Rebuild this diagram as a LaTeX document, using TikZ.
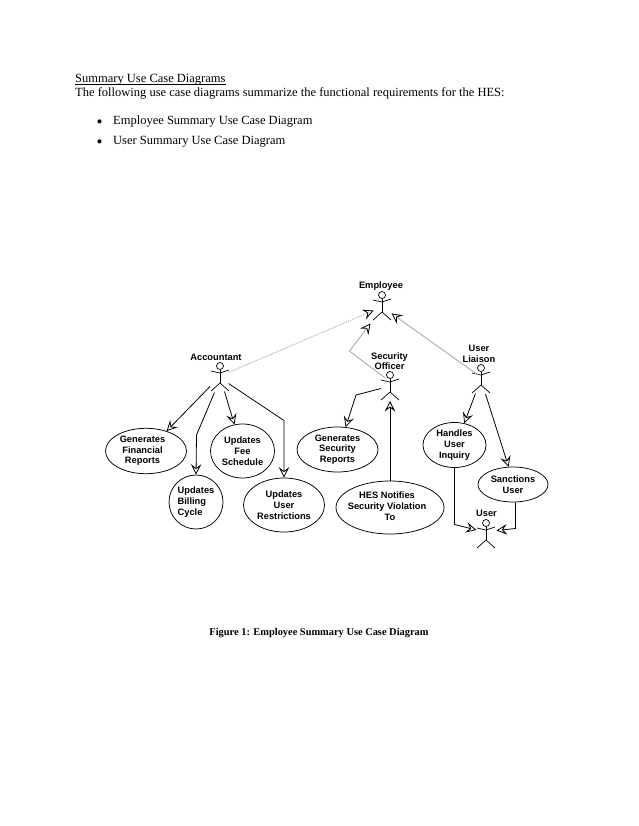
\documentclass[tikz,border=0pt]{standalone}
\usepackage{fontspec}
\setmainfont{Liberation Serif}
\newfontfamily\labelfont{Liberation Sans}
\usetikzlibrary{shapes.geometric, arrows.meta}
\tikzset{
    usecase/.style={draw, ellipse, line width=0.75pt, inner sep=0pt, align=center, font=\labelfont\bfseries\fontsize{9.3}{10.7}\selectfont},
    actorlabel/.style={align=center, inner sep=0pt, font=\labelfont\bfseries\fontsize{9.3}{10.5}\selectfont},
    bodytext/.style={anchor=base west, inner sep=0pt, font=\fontsize{12.5}{14}\selectfont},
    bullettext/.style={anchor=base west, inner sep=0pt, font=\fontsize{17}{17}\selectfont},
    solidlink/.style={draw, line width=0.8pt, -{Stealth[open, length=10.5pt, width=10.5pt, inset=4pt]}},
    graylink/.style={draw=black!30, line width=1pt, -{Stealth[open, black, line width=0.8pt, length=10.5pt, width=10.5pt, inset=4pt]}},
    actor/.pic={
        \node[draw, circle, minimum size=7pt, inner sep=0pt, line width=0.7pt] (-head) at (0,0) {};
        \draw[line width=0.7pt] (-head.south) -- (0,17);
        \draw[line width=0.7pt] (-9,5) -- (0,7) -- (9,4);
        \draw[line width=0.7pt] (-9,25) -- (0,17) -- (9,25);
    }
}

\begin{document}
\begin{tikzpicture}[x=1pt, y=-1pt]
    \useasboundingbox (0,0) rectangle (638,826);

    \node[bodytext] (title) at (75,83) {Summary Use Case Diagrams};
    \draw[line width=0.5pt] ([yshift=-1.3pt]title.base west) -- ([yshift=-1.3pt]title.base east);
    \node[bodytext] (intro) at (75,97) {The following use case diagrams summarize the functional requirements for the HES:};
    \node[bullettext] (bullet_a) at (96.3,128) {•};
    \node[bodytext] (item_a) at (113,125) {Employee Summary Use Case Diagram};
    \node[bullettext] (bullet_b) at (96.3,147.5) {•};
    \node[bodytext] (item_b) at (113,144.5) {User Summary Use Case Diagram};

    \pic (employee) at (382,295) {actor};
    \pic (accountant) at (220,366) {actor};
    \pic (security) at (390,375) {actor};
    \pic (liaison) at (481,368) {actor};
    \pic (user) at (486,523) {actor};

    \node[actorlabel] (employee_lbl) at (381,286) {Employee};
    \node[actorlabel] (accountant_lbl) at (216,357) {Accountant};
    \node[actorlabel] (security_lbl) at (389.5,361) {Security\\Officer};
    \node[actorlabel] (liaison_lbl) at (479,354) {User\\Liaison};
    \node[actorlabel] (user_lbl) at (486.5,513) {User};

    \node[usecase, minimum width=81pt, minimum height=45pt] (financial) at (146,451) {\begin{tabular}{@{}c@{\hspace{7pt}}}Generates\\Financial\\Reports\end{tabular}};
    \node[usecase, minimum width=54pt, minimum height=54pt, align=left] (billing) at (196,502) {Updates\\Billing\\Cycle};
    \node[usecase, minimum width=64pt, minimum height=54pt] (fee) at (242.5,451) {Updates\\Fee\\Schedule};
    \node[usecase, minimum width=81pt, minimum height=54pt] (restrictions) at (284,505) {Updates\\User\\Restrictions};
    \node[usecase, minimum width=81pt, minimum height=45pt] (reports) at (337.5,449.5) {Generates\\Security\\Reports};
    \node[usecase, inner xsep=-8pt, minimum width=108pt, minimum height=53pt] (notifies) at (390,507.5) {\begin{tabular}{@{}c@{}}HES Notifies\hspace*{6pt}\\Security Violation\hspace*{6pt}\\To\end{tabular}};
    \node[usecase, minimum width=63pt, minimum height=45pt] (inquiry) at (454.5,445) {Handles\\User\\Inquiry};
    \node[usecase, minimum width=70pt, minimum height=35pt] (sanctions) at (513,484.5) {Sanctions\\User};

    \coordinate (acc_tail) at (228.5,372.5);
    \coordinate (emp_left) at (373.5,310.5);
    \coordinate (sec_tail) at (385,378);
    \coordinate (sec_bend) at (349.5,351);
    \coordinate (emp_low) at (370.5,323.5);
    \coordinate (lia_tail) at (478,375);
    \coordinate (emp_right) at (391.5,313.5);
    \draw[graylink, densely dotted] (acc_tail) -- (emp_left);
    \draw[graylink] (sec_tail) -- (sec_bend) -- (emp_low);
    \draw[graylink] (lia_tail) -- (emp_right);

    \coordinate (acc_a) at (210,386.5);
    \coordinate (acc_b) at (214.5,392.5);
    \coordinate (acc_b_bend) at (196.5,435);
    \coordinate (acc_c) at (224.5,391.5);
    \coordinate (acc_d) at (228.5,383.5);
    \coordinate (acc_d_bend) at (284,420.5);
    \draw[solidlink] (acc_a) -- (financial.44);
    \draw[solidlink] (acc_b) -- (acc_b_bend) -- (billing.north);
    \draw[solidlink] (acc_c) -- (fee.107);
    \draw[solidlink] (acc_d) -- (acc_d_bend) -- (restrictions.north);

    \coordinate (sec_a) at (381,388.5);
    \coordinate (sec_a_bend) at (356,395);
    \coordinate (sec_foot) at (390,401);
    \draw[solidlink] (sec_a) -- (sec_a_bend) -- (reports.70);
    \draw[solidlink] (notifies.north) -- (sec_foot);

    \coordinate (lia_a) at (475.5,393.5);
    \coordinate (lia_b) at (485.5,394);
    \draw[solidlink] (lia_a) -- (inquiry.66);
    \draw[solidlink] (lia_b) -- (sanctions.104);

    \coordinate (inq_bend) at (454.5,524.5);
    \coordinate (user_left) at (476.5,530);
    \coordinate (san_bend) at (515.5,528.5);
    \coordinate (user_right) at (496.5,530.5);
    \draw[solidlink] (inquiry.south) -- (inq_bend) -- (user_left);
    \draw[solidlink] (sanctions.278) -- (san_bend) -- (user_right);

    \node[anchor=base, inner sep=0pt, font=\bfseries\fontsize{10.4}{12}\selectfont] (caption) at (319,635) {Figure 1: Employee Summary Use Case Diagram};
\end{tikzpicture}
\end{document}
